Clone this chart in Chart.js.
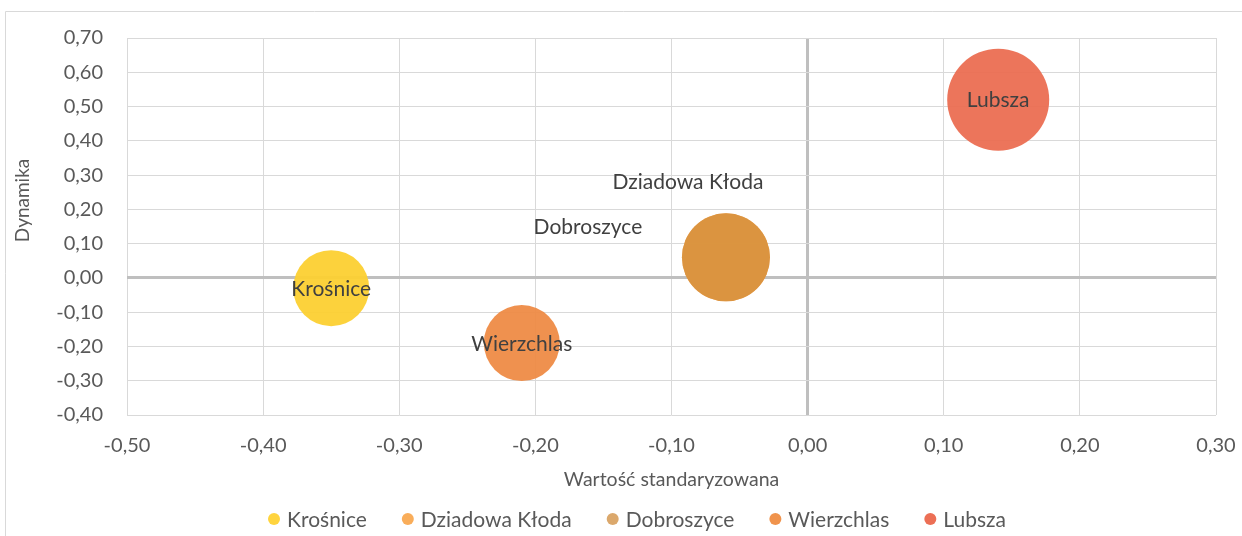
<!DOCTYPE html>
<html lang="pl">
<head>
<meta charset="utf-8">
<script src="https://cdn.jsdelivr.net/npm/chart.js@4.4.1/dist/chart.umd.min.js"></script>
<style>
  html, body { margin: 0; padding: 0; background: #fff; }
  #wrap { width: 1242px; height: 536px; position: relative; }
</style>
</head>
<body>
<div id="wrap"><canvas id="wykres"></canvas></div>
<script>
// --- DANE ---
const gminy = ['Krośnice', 'Dziadowa Kłoda', 'Dobroszyce', 'Wierzchlas', 'Lubsza'];
const wartoscStd = [-0.35, -0.06, -0.06, -0.21, 0.14];
const dynamika = [-0.03, 0.06, 0.06, -0.19, 0.52];
const rozmiar = [38, 44, 44, 38, 51];
const tytulX = 'Wartość standaryzowana';
const tytulY = 'Dynamika';

// --- STYL ---
const koloryBabli = ['rgba(252,208,50,0.95)', 'rgba(245,160,74,0.9)', 'rgba(217,148,63,0.95)', 'rgba(238,139,70,0.95)', 'rgba(235,110,82,0.95)'];
const koloryLegendy = ['#FFD43E', '#F9AD5A', '#DBA86C', '#F0934C', '#EC6F55'];
// przesunięcie etykiet (px) względem środka bąbla
const przesuniecia = [[0, 1], [-38, -75], [-138, -30], [0, 1], [0, 1]];

const FONT = 'Lato, "Open Sans", sans-serif';
const fmt = v => (Math.abs(v) < 1e-9 ? 0 : v).toFixed(2).replace('.', ',');
const jestZero = v => Math.abs(v) < 1e-9;

const ramka = {
  id: 'ramka',
  beforeDraw(chart) {
    const c = chart.ctx;
    c.save();
    c.strokeStyle = '#D9D9D9';
    c.lineWidth = 1;
    c.beginPath();
    c.moveTo(5.5, chart.height);
    c.lineTo(5.5, 11.5);
    c.lineTo(chart.width, 11.5);
    c.stroke();
    // tytuł osi Y (w Excelu lekko powyżej środka)
    c.font = '19px ' + FONT;
    c.fillStyle = '#595959';
    c.textAlign = 'center';
    c.textBaseline = 'middle';
    c.translate(23, chart.chartArea.top + (chart.chartArea.bottom - chart.chartArea.top) / 2 - 26);
    c.rotate(-Math.PI / 2);
    c.fillText(tytulY, 0, 0);
    c.restore();
  }
};

const etykiety = {
  id: 'etykiety',
  afterDatasetsDraw(chart) {
    const c = chart.ctx;
    c.save();
    c.font = '21px ' + FONT;
    c.fillStyle = '#404040';
    c.textAlign = 'center';
    c.textBaseline = 'middle';
    chart.data.datasets.forEach((ds, i) => {
      const el = chart.getDatasetMeta(i).data[0];
      c.fillText(ds.label, el.x + przesuniecia[i][0], el.y + przesuniecia[i][1]);
    });
    c.restore();
  }
};

// legenda rysowana ręcznie (odstępy jak w Excelu)
const legenda = {
  id: 'legenda',
  afterDraw(chart) {
    const c = chart.ctx;
    c.save();
    c.font = '21px ' + FONT;
    c.textBaseline = 'middle';
    c.textAlign = 'left';
    const r = 6, odTekstu = 13, odstep = 41, y = 519, srodek = 637;
    const szer = gminy.map(g => c.measureText(g).width);
    const calosc = r + gminy.length * odTekstu + szer.reduce((a, b) => a + b, 0) + odstep * (gminy.length - 1);
    let x = srodek - calosc / 2 + r;
    gminy.forEach((g, i) => {
      c.fillStyle = koloryLegendy[i];
      c.beginPath();
      c.arc(x, y, r, 0, Math.PI * 2);
      c.fill();
      c.fillStyle = '#595959';
      c.fillText(g, x + odTekstu, y + 1);
      x += odTekstu + szer[i] + odstep;
    });
    c.restore();
  }
};

new Chart(document.getElementById('wykres'), {
  type: 'bubble',
  data: {
    datasets: gminy.map((g, i) => ({
      label: g,
      data: [{ x: wartoscStd[i], y: dynamika[i], r: rozmiar[i] }],
      backgroundColor: koloryBabli[i],
      borderWidth: 0,
      order: gminy.length - i
    }))
  },
  options: {
    responsive: true,
    maintainAspectRatio: false,
    animation: false,
    layout: { autoPadding: false, padding: { left: 10, top: 38, right: 26, bottom: 37 } },
    plugins: {
      tooltip: { enabled: false },
      legend: { display: false }
    },
    scales: {
      x: {
        type: 'linear',
        min: -0.5,
        max: 0.3,
        afterFit: s => { s.height = 84; s.paddingRight = 0; s.paddingLeft = 0; },
        ticks: {
          stepSize: 0.1,
          padding: 19,
          color: '#595959',
          font: { family: FONT, size: 20 },
          callback: v => fmt(v),
          maxRotation: 0
        },
        grid: {
          drawTicks: false,
          color: c => jestZero(c.tick.value) ? '#BFBFBF' : '#D9D9D9',
          lineWidth: c => jestZero(c.tick.value) ? 3 : 1
        },
        border: { display: false },
        title: {
          display: true,
          text: tytulX,
          color: '#595959',
          font: { family: FONT, size: 19.5 },
          padding: { top: 0, bottom: 8 }
        }
      },
      y: {
        type: 'linear',
        min: -0.4,
        max: 0.7,
        afterFit: s => { s.width = 117; },
        ticks: {
          stepSize: 0.1,
          padding: 24,
          color: '#595959',
          font: { family: FONT, size: 20 },
          callback: v => fmt(v)
        },
        grid: {
          drawTicks: false,
          color: c => jestZero(c.tick.value) ? '#BFBFBF' : '#D9D9D9',
          lineWidth: c => jestZero(c.tick.value) ? 3 : 1
        },
        border: { display: false },
        title: { display: false }
      }
    }
  },
  plugins: [ramka, etykiety, legenda]
});
</script>
</body>
</html>
